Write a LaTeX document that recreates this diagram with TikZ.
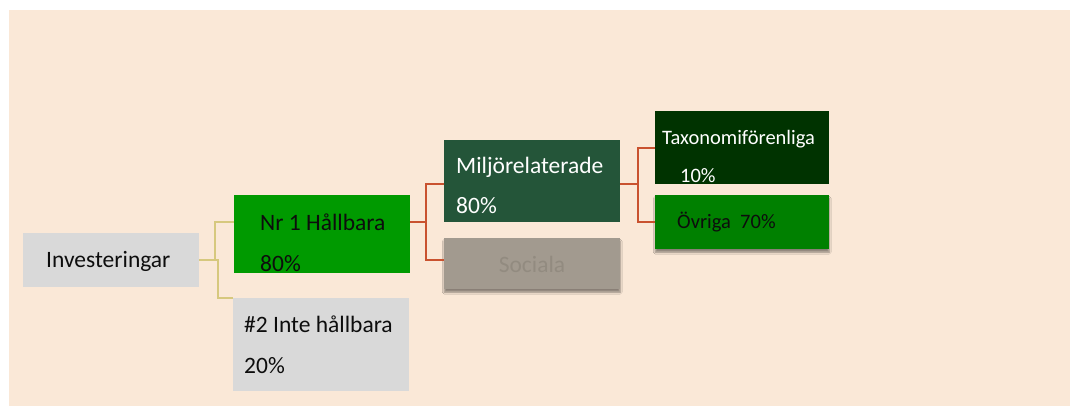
\documentclass[tikz,border=0pt]{standalone}
\usepackage{fontspec}
\setmainfont{Carlito}
\usetikzlibrary{shadows.blur}
\definecolor{peach}{HTML}{FAE8D7}
\definecolor{boxgray}{HTML}{D9D9D9}
\definecolor{brightgreen}{HTML}{009A00}
\definecolor{envgreen}{HTML}{245539}
\definecolor{taxgreen}{HTML}{003300}
\definecolor{othergreen}{HTML}{008000}
\definecolor{socgray}{HTML}{A29A8F}
\definecolor{soctext}{HTML}{8C857A}
\definecolor{lineyellow}{HTML}{D6C87E}
\definecolor{linered}{HTML}{C9522F}
\begin{document}
\begin{tikzpicture}[x=1pt, y=-1pt,
    box/.style={rectangle, draw=none, anchor=north west, inner sep=0pt},
    txt/.style={anchor=base west, inner sep=0pt, text=black!95, font=\fontsize{23.5}{28}\selectfont},
    smalltxt/.style={txt, font=\fontsize{20.5}{24}\selectfont},
    yline/.style={draw=lineyellow, line width=2pt},
    rline/.style={draw=linered, line width=2pt},
    soft/.style={blur shadow={shadow xshift=0pt, shadow yshift=-3pt, shadow blur steps=6, shadow opacity=45}}]
  \useasboundingbox (0,0) rectangle (1072,407);
  \fill[white] (0,0) rectangle (1072,407);
  \fill[peach] (9,10) rectangle (1070,406);

  % boxes
  \node[box, fill=boxgray, minimum width=176, minimum height=54] (inv) at (23,233) {};
  \node[box, fill=brightgreen, minimum width=176, minimum height=78] (nr1) at (234,195) {};
  \node[box, fill=boxgray, minimum width=176, minimum height=93] (nr2) at (233,298) {};
  \node[box, fill=envgreen, minimum width=176, minimum height=82] (milj) at (444,140) {};
  \node[box, fill=socgray, soft, minimum width=176, minimum height=51] (soc) at (444,238) {};
  \node[box, fill=taxgreen, minimum width=174, minimum height=73] (tax) at (655,111) {};
  \node[box, fill=othergreen, soft, minimum width=174, minimum height=54] (ovr) at (655,195) {};

  % connectors
  \draw[yline] (inv.east) -- ++(16,0) |- ([yshift=12pt]nr1.west);
  \draw[yline] (inv.east) -- ++(19,0) |- (nr2.north west);
  \draw[rline] ([yshift=12pt]nr1.east) -- ++(16,0) |- ([yshift=-3pt]milj.west);
  \draw[rline] ([yshift=12pt]nr1.east) -- ++(16,0) |- ([yshift=3.5pt]soc.west);
  \draw[rline] ([yshift=-3pt]milj.east) -- ++(18,0) |- (tax.west);
  \draw[rline] ([yshift=-3pt]milj.east) -- ++(18,0) |- (ovr.west);

  % texts
  \node[txt] (invt) at (46,267) {Investeringar};
  \node[txt] (nr1a) at (260,230) {Nr 1 Hållbara};
  \node[txt] (nr1b) at (260,271) {80\%};
  \node[txt] (nr2a) at (244,332) {\#2 Inte hållbara};
  \node[txt] (nr2b) at (244,373) {20\%};
  \node[txt, text=white] (milja) at (456,173) {Miljörelaterade};
  \node[txt, text=white] (miljb) at (456,213) {80\%};
  \node[txt, anchor=base, text=soctext, opacity=0.7] (soct) at (532,272) {Sociala};
  \node[smalltxt, text=white] (taxa) at (662,144) {Taxonomiförenliga};
  \node[smalltxt, text=white] (taxb) at (680,182) {10\%};
  \node[smalltxt] (ovrt) at (677,228) {Övriga\ \ 70\%};
\end{tikzpicture}
\end{document}
